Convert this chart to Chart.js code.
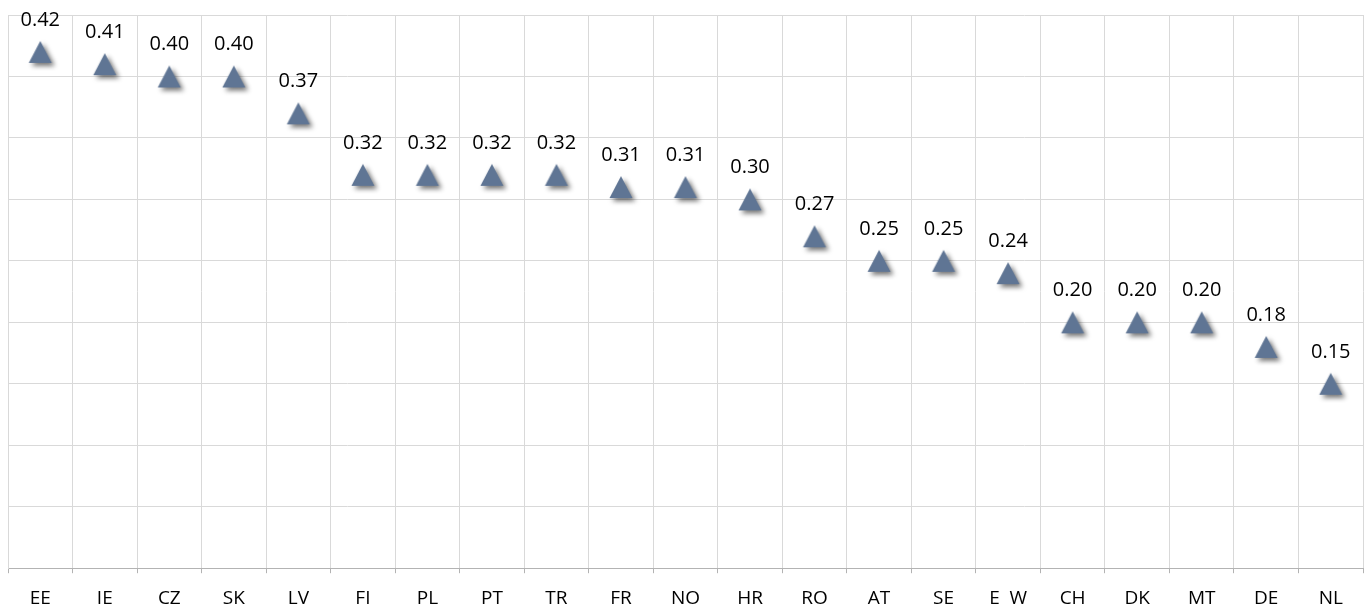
<!DOCTYPE html>
<html>
<head>
<meta charset="utf-8">
<script src="https://cdn.jsdelivr.net/npm/chart.js@4/dist/chart.umd.min.js"></script>
<style>
  html, body { margin: 0; padding: 0; background: #ffffff; }
  #wrap { width: 1370px; height: 605px; }
</style>
</head>
<body>
<div id="wrap"><canvas id="c" width="1370" height="605"></canvas></div>
<script>
// Countries along the horizontal axis
const countries = ['EE', 'IE', 'CZ', 'SK', 'LV', 'FI', 'PL', 'PT', 'TR', 'FR', 'NO',
                   'HR', 'RO', 'AT', 'SE', 'E  W', 'CH', 'DK', 'MT', 'DE', 'NL'];
// Index value per country
const indexValues = [0.42, 0.41, 0.40, 0.40, 0.37, 0.32, 0.32, 0.32, 0.32, 0.31, 0.31,
                     0.30, 0.27, 0.25, 0.25, 0.24, 0.20, 0.20, 0.20, 0.18, 0.15];
// Value axis range
const axisMin = 0;
const axisMax = 0.45;
const axisStep = 0.05;

const FONT = '"Open Sans", "DejaVu Sans", sans-serif';

// Triangle marker with a soft drop shadow, its bounding box centred on the point
function makeMarker() {
  const size = 44;
  const cv = document.createElement('canvas');
  cv.width = size; cv.height = size;
  const g = cv.getContext('2d');
  const w = 23, h = 22;
  const cx = size / 2, cy = size / 2;
  g.shadowColor = 'rgba(0,0,0,0.55)';
  g.shadowBlur = 5;
  g.shadowOffsetX = 3;
  g.shadowOffsetY = 3;
  g.fillStyle = '#5f7594';
  g.beginPath();
  g.moveTo(cx, cy - h / 2);
  g.lineTo(cx + w / 2, cy + h / 2);
  g.lineTo(cx - w / 2, cy + h / 2);
  g.closePath();
  g.fill();
  return cv;
}
const marker = makeMarker();

// Value labels written above each marker
const valueLabels = {
  id: 'valueLabels',
  afterDatasetsDraw(chart) {
    const ctx = chart.ctx;
    const meta = chart.getDatasetMeta(0);
    const data = chart.data.datasets[0].data;
    ctx.save();
    ctx.font = '20px ' + FONT;
    ctx.fillStyle = '#000000';
    ctx.textAlign = 'center';
    ctx.textBaseline = 'alphabetic';
    meta.data.forEach((pt, i) => {
      ctx.fillText(data[i].toFixed(2), pt.x, pt.y - 26);
    });
    ctx.restore();
  }
};

new Chart(document.getElementById('c'), {
  type: 'line',
  data: {
    labels: countries,
    datasets: [{
      data: indexValues,
      showLine: false,
      pointStyle: marker,
      pointRadius: 12,
      pointHoverRadius: 12
    }]
  },
  options: {
    responsive: false,
    animation: false,
    layout: { autoPadding: false, padding: { left: 8, right: 7, top: 15, bottom: -19 } },
    plugins: {
      legend: { display: false },
      tooltip: { enabled: false }
    },
    scales: {
      x: {
        offset: true,
        afterFit(scale) { scale.paddingLeft = 0; scale.paddingRight = 0; },
        grid: {
          offset: true,
          color: '#d9d9d9',
          tickColor: '#b3b3b3',
          tickLength: 5,
          drawTicks: true
        },
        border: { color: '#b3b3b3' },
        ticks: {
          font: { family: FONT, size: 19 },
          color: '#000000',
          padding: 14,
          autoSkip: false,
          maxRotation: 0
        }
      },
      y: {
        min: axisMin,
        max: axisMax,
        afterFit(scale) { scale.width = 0; },
        ticks: { stepSize: axisStep, display: false },
        grid: { color: '#d9d9d9', drawTicks: false },
        border: { color: '#d9d9d9' }
      }
    }
  },
  plugins: [valueLabels]
});
</script>
</body>
</html>
